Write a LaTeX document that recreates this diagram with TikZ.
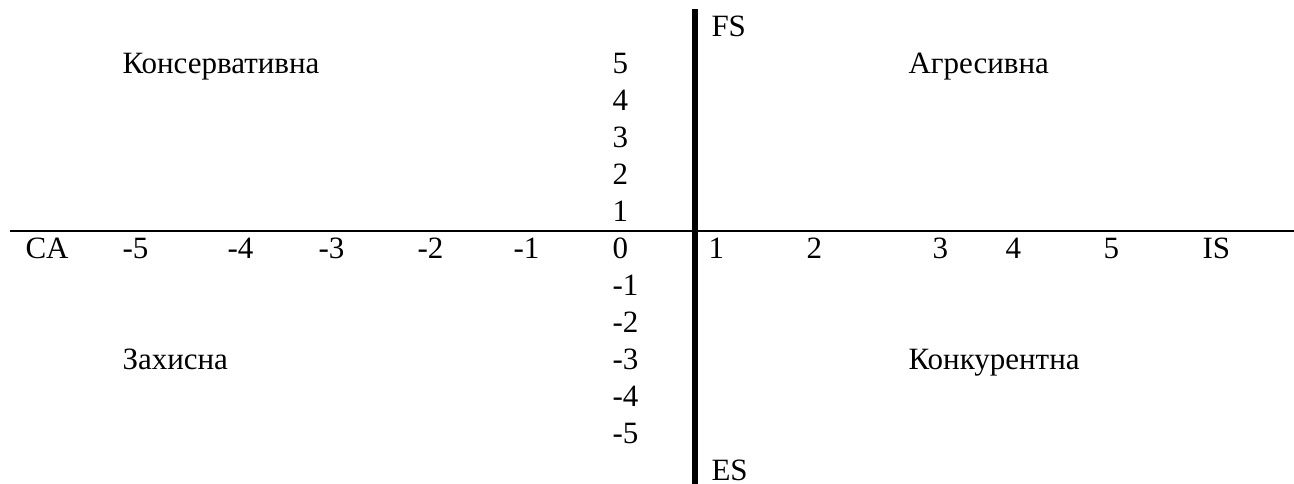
\documentclass[tikz,border=0pt]{standalone}
\usepackage{fontspec}
\setmainfont{Liberation Serif}

\begin{document}
\begin{tikzpicture}[
  x=0.4pt,y=-0.4pt,
  lbl/.style={anchor=base west,inner sep=0pt,font=\fontsize{12.4}{14}\selectfont},
  thinaxis/.style={line width=0.6pt},
  thickaxis/.style={line width=2.2pt}
]
  \useasboundingbox (0,0) rectangle (1294,484);

  \coordinate (left) at (10,231);
  \coordinate (right) at (1294,231);
  \coordinate (top) at (695,9);
  \coordinate (bottom) at (695,484);

  % axes
  \draw[thinaxis] (left) -- (right);
  \draw[thickaxis] (top) -- (bottom);

  % vertical scale
  \foreach \v [count=\i] in {5,4,3,2,1,0,-1,-2,-3,-4,-5}
    \node[lbl] (y\i) at (612,37+37*\i) {\v};

  % horizontal scale
  \foreach \v/\xx [count=\i] in {CA/25,-5/122,-4/227,-3/318,-2/417,-1/513,
                                  1/708,2/806,3/932,4/1005,5/1103,IS/1202}
    \node[lbl] (x\i) at (\xx,259) {\v};

  \node[lbl] (fs) at (711,37) {FS};
  \node[lbl] (es) at (711,481) {ES};

  % quadrants
  \node[lbl] (cons) at (122,74) {Консервативна};
  \node[lbl] (aggr) at (908,74) {Агресивна};
  \node[lbl] (defn) at (122,370) {Захисна};
  \node[lbl] (comp) at (908,370) {Конкурентна};
\end{tikzpicture}
\end{document}
